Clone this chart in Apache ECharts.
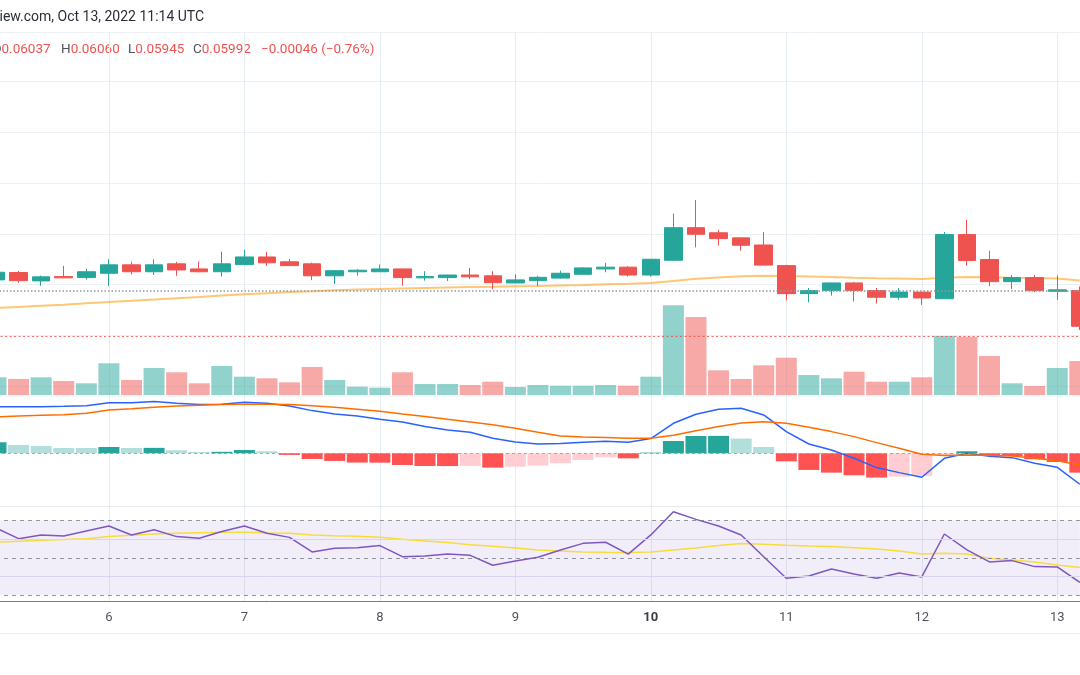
<!DOCTYPE html>
<html><head><meta charset="utf-8">
<script src="https://cdn.jsdelivr.net/npm/echarts@6/dist/echarts.min.js"></script>
<style>html,body{margin:0;padding:0;background:#fff}#c{width:1080px;height:675px}</style>
</head><body><div id="c"></div>
<script>
// ---- data (4h candles, Oct 5 04:00 .. Oct 13 04:00) ----
const times = [
 'Oct 5 04:00','Oct 5 08:00','Oct 5 12:00','Oct 5 16:00','Oct 5 20:00',
 'Oct 6 00:00','Oct 6 04:00','Oct 6 08:00','Oct 6 12:00','Oct 6 16:00','Oct 6 20:00',
 'Oct 7 00:00','Oct 7 04:00','Oct 7 08:00','Oct 7 12:00','Oct 7 16:00','Oct 7 20:00',
 'Oct 8 00:00','Oct 8 04:00','Oct 8 08:00','Oct 8 12:00','Oct 8 16:00','Oct 8 20:00',
 'Oct 9 00:00','Oct 9 04:00','Oct 9 08:00','Oct 9 12:00','Oct 9 16:00','Oct 9 20:00',
 'Oct 10 00:00','Oct 10 04:00','Oct 10 08:00','Oct 10 12:00','Oct 10 16:00','Oct 10 20:00',
 'Oct 11 00:00','Oct 11 04:00','Oct 11 08:00','Oct 11 12:00','Oct 11 16:00','Oct 11 20:00',
 'Oct 12 00:00','Oct 12 04:00','Oct 12 08:00','Oct 12 12:00','Oct 12 16:00','Oct 12 20:00',
 'Oct 13 00:00','Oct 13 04:00'];
const opens  = [0.06219,0.06248,0.06215,0.06232,0.06228,0.06245,0.06278,0.06251,0.06282,0.06262,0.06251,0.06279,0.06309,0.06290,0.06282,0.06235,0.06251,0.06251,0.06262,0.06227,0.06228,0.06238,0.06235,0.06207,0.06216,0.06226,0.06241,0.06262,0.06269,0.06238,0.06296,0.06424,0.06404,0.06384,0.06356,0.06275,0.06165,0.06177,0.06207,0.06177,0.06151,0.06171,0.06145,0.06397,0.06299,0.06212,0.06228,0.06174,0.06177];
const closes = [0.06249,0.06216,0.06231,0.06227,0.06251,0.06278,0.06251,0.06278,0.06258,0.06251,0.06282,0.06309,0.06286,0.06275,0.06235,0.06255,0.06257,0.06262,0.06228,0.06232,0.06238,0.06231,0.06208,0.06219,0.06229,0.06245,0.06266,0.06269,0.06238,0.06300,0.06424,0.06398,0.06381,0.06355,0.06277,0.06165,0.06177,0.06207,0.06177,0.06151,0.06171,0.06148,0.06397,0.06295,0.06212,0.06228,0.06177,0.06180,0.06037];
const lows   = [0.06211,0.06208,0.06196,0.06226,0.06220,0.06195,0.06241,0.06238,0.06235,0.06248,0.06232,0.06278,0.06274,0.06274,0.06218,0.06203,0.06235,0.06250,0.06196,0.06216,0.06215,0.06222,0.06182,0.06206,0.06195,0.06225,0.06240,0.06249,0.06232,0.06232,0.06295,0.06347,0.06354,0.06334,0.06276,0.06138,0.06131,0.06157,0.06134,0.06126,0.06141,0.06121,0.06144,0.06275,0.06194,0.06183,0.06171,0.06141,0.06022];
const highs  = [0.06258,0.06254,0.06236,0.06274,0.06262,0.06300,0.06290,0.06300,0.06290,0.06290,0.06330,0.06337,0.06329,0.06301,0.06287,0.06258,0.06261,0.06279,0.06263,0.06253,0.06239,0.06266,0.06253,0.06240,0.06235,0.06255,0.06269,0.06286,0.06273,0.06301,0.06479,0.06533,0.06415,0.06385,0.06407,0.06278,0.06187,0.06208,0.06211,0.06187,0.06187,0.06172,0.06407,0.06455,0.06333,0.06238,0.06238,0.06236,0.06193];
const volumes = [1770,1600,1770,1400,1170,3170,1500,2700,2270,1170,2900,1830,1670,1270,2800,1500,830,730,2270,1100,1100,1000,1330,800,1000,930,930,1000,930,1830,8970,7800,2470,1600,2970,3730,2000,1670,2330,1330,1330,1770,5900,5830,3900,1170,900,2700,3400];
const priceMA = [0.06109,0.06113,0.06117,0.06121,0.06127,0.06132,0.06137,0.06142,0.06147,0.06152,0.06158,0.06163,0.06167,0.06171,0.06174,0.06178,0.06181,0.06183,0.06185,0.06187,0.06189,0.06191,0.06192,0.06194,0.06195,0.06197,0.06199,0.06202,0.06204,0.06207,0.06215,0.06223,0.06228,0.06233,0.06235,0.06234,0.06232,0.06230,0.06227,0.06225,0.06224,0.06222,0.06227,0.06230,0.06229,0.06227,0.06226,0.06224,0.06217];
const prevClose = 0.06177;
const lastPrice = 0.05999;
// MACD values in units of 1e-5
const macdLine = [48.2,48.2,48.2,48.6,49.2,52.3,52.3,53.4,51.7,50.3,50.6,52.7,51.7,48.9,44.1,40.6,38.6,35.1,32.4,27.6,24.1,21.7,15.5,11.7,9.6,10.0,11.4,12.4,11.4,15.2,31.0,40.3,45.5,46.5,39.6,22.4,9.6,3.4,-5.2,-14.8,-20.0,-24.8,-5.2,0.0,-3.1,-4.5,-10.3,-14.5,-32.0];
const signalLine = [37.5,38.6,39.3,39.9,41.3,44.8,46.1,47.5,48.9,49.6,50.3,50.6,50.6,50.3,49.2,47.5,45.5,43.4,40.6,37.9,35.1,32.4,29.6,25.8,21.7,17.9,16.9,16.2,15.5,15.5,18.6,23.4,27.6,31.3,32.7,31.0,26.9,22.4,17.2,11.0,5.2,-1.0,-2.4,-1.7,-2.1,-2.8,-5.2,-7.6,-12.1];
const histogram = [11.4,8.6,7.6,5.5,5.5,6.5,5.5,5.6,3.1,1.4,1.5,3.4,2.1,-1.7,-5.9,-7.9,-9.6,-9.7,-12.1,-13.1,-13.2,-13.0,-14.8,-13.8,-12.7,-10.3,-6.9,-4.1,-5.2,0.7,12.7,17.9,18.0,15.2,6.5,-8.3,-17.2,-20.0,-22.7,-25.1,-24.1,-23.4,-1.7,2.1,-2.4,-2.8,-6.2,-9.0,-20.0];
const rsi = [65.9,60.2,62.2,61.6,64.3,67.0,62.2,65.0,61.3,60.4,64.0,67.0,63.1,60.9,53.1,55.1,55.4,56.5,50.6,51.0,52.0,51.3,46.0,48.3,50.3,54.2,57.7,58.3,52.0,62.2,74.6,70.5,67.0,62.2,50.6,39.1,40.3,44.0,41.4,39.1,41.9,39.8,62.7,54.2,47.8,48.5,45.3,45.1,36.9];
const rsiMA = [58.3,58.8,59.3,59.7,60.2,61.3,62.0,62.7,63.1,63.4,63.6,63.6,63.2,63.1,62.2,61.8,61.5,60.9,59.9,59.0,58.1,57.0,56.1,55.2,54.2,53.6,53.1,52.9,52.8,53.1,54.2,55.2,56.5,57.6,57.2,56.7,56.3,56.0,55.4,54.7,53.6,52.0,52.4,52.0,49.7,48.8,47.8,46.2,44.8];
const rsiLevels = [70, 50, 30];
const rsiGrid = [60, 40];
const headerText = 'iew.com, Oct 13, 2022 11:14 UTC';
const ohlc = [['O','0.06037'],['H','0.06060'],['L','0.05945'],['C','0.05992']];
const changeText = '\u22120.00046 (\u22120.76%)';

// ---- styles ----
const UP = '#26a69a', DOWN = '#ef5350';
const L = -4, W = 1083.84;
const FONT = 'Roboto, "Noto Sans", sans-serif';

const candleData = opens.map((o, i) => [o, closes[i], lows[i], highs[i]]);
const volData = volumes.map((v, i) => ({
  value: v,
  itemStyle: { color: closes[i] >= opens[i] ? 'rgba(38,166,154,0.5)' : 'rgba(239,83,80,0.5)' }
}));
const histData = histogram.map((h, i) => {
  const prev = i > 0 ? histogram[i - 1] : -Infinity;
  let c;
  if (h >= 0) c = prev < h ? '#26a69a' : '#b2dfdb';
  else c = prev < h ? '#ffcdd2' : '#ff5252';
  return { value: h, itemStyle: { color: c } };
});

const hiddenX = (gi) => ({ type: 'category', gridIndex: gi, data: times, boundaryGap: false, show: false });
const hiddenY = (gi, extra) => Object.assign({ type: 'value', gridIndex: gi, show: false, scale: false }, extra);

const graphics = [
  { type: 'text', x: -0.5, y: 17.5, style: { text: headerText, fill: '#2a2e39', font: '14px ' + FONT, verticalAlign: 'middle' } },
  { type: 'line', shape: { x1: 0, y1: 396, x2: 1080, y2: 396 }, style: { stroke: '#eceff3', lineWidth: 1 } },
  { type: 'line', shape: { x1: 0, y1: 506.5, x2: 1080, y2: 506.5 }, style: { stroke: '#e6e9ee', lineWidth: 1 } },
  { type: 'line', shape: { x1: 0, y1: 633.5, x2: 1080, y2: 633.5 }, style: { stroke: '#eceff3', lineWidth: 1 } }
];
const ohlcX = [-7.8, 61, 128, 193];
ohlc.forEach((p, k) => {
  graphics.push({ type: 'text', x: ohlcX[k], y: 50, style: {
    text: '{l|' + p[0] + '}{v|' + p[1] + '}',
    verticalAlign: 'middle', font: '13.5px ' + FONT,
    rich: { l: { fill: '#50535e', fontSize: 13.5, fontFamily: FONT }, v: { fill: DOWN, fontSize: 13.5, fontFamily: FONT } }
  }});
});
graphics.push({ type: 'text', x: 261, y: 50, style: { text: changeText, fill: DOWN, font: '13.5px ' + FONT, verticalAlign: 'middle' } });

const chart = echarts.init(document.getElementById('c'), null, { renderer: 'canvas' });
chart.setOption({
  animation: false,
  backgroundColor: '#ffffff',
  grid: [
    { left: L, width: W, top: 32.3, height: 354.3, containLabel: false, outerBoundsMode: 'none' },
    { left: L, width: W, top: 195, height: 200, containLabel: false, outerBoundsMode: 'none' },
    { left: L, width: W, top: 396, height: 110.7, containLabel: false, outerBoundsMode: 'none' },
    { left: L, width: W, top: 506, height: 95, containLabel: false, outerBoundsMode: 'none' },
    { left: L, width: W, top: 32.3, height: 568.7, containLabel: false, outerBoundsMode: 'none' }
  ],
  xAxis: [
    hiddenX(0), hiddenX(1), hiddenX(2), hiddenX(3),
    {
      type: 'category', gridIndex: 4, data: times, boundaryGap: false,
      axisLine: { show: true, lineStyle: { color: '#787b86', width: 1 } },
      axisTick: { show: false },
      axisLabel: {
        interval: (i) => i % 6 === 5,
        margin: 10, color: '#50535e', fontSize: 13, fontFamily: FONT,
        formatter: (v) => { const d = v.split(' ')[1]; return d === '10' ? '{b|10}' : d; },
        rich: { b: { fontWeight: 'bold', fontSize: 13, fontFamily: FONT, color: '#3a3d46' } }
      },
      splitLine: { show: true, interval: (i) => i % 6 === 5, lineStyle: { color: '#e6edf2', width: 1 } }
    }
  ],
  yAxis: [
    { type: 'value', gridIndex: 0, min: 0.058, max: 0.071911, interval: 0.002,
      axisLabel: { show: false }, axisLine: { show: false }, axisTick: { show: false },
      splitLine: { show: true, lineStyle: { color: '#edf0f4', width: 1 } } },
    hiddenY(1, { min: 0, max: 20000 }),
    hiddenY(2, { min: -55.2, max: 59.2 }),
    hiddenY(3, { min: 26.96, max: 77.63 }),
    hiddenY(4, { min: 0, max: 1 })
  ],
  series: [
    { type: 'bar', name: 'Volume', xAxisIndex: 1, yAxisIndex: 1, data: volData, barWidth: 21, silent: true },
    { type: 'line', name: 'MA', xAxisIndex: 0, yAxisIndex: 0, data: priceMA, symbol: 'none', silent: true,
      lineStyle: { color: 'rgba(255,152,0,0.55)', width: 2 }, z: 1 },
    { type: 'candlestick', name: 'Price', xAxisIndex: 0, yAxisIndex: 0, data: candleData, barWidth: 18, silent: true,
      itemStyle: { color: UP, color0: DOWN, borderColor: UP, borderColor0: DOWN, borderWidth: 1 },
      markLine: { silent: true, precision: 6, symbol: ['none', 'none'], label: { show: false },
        data: [
          { yAxis: prevClose, lineStyle: { color: '#9598a1', type: [1.5, 2], width: 1.5 } },
          { yAxis: lastPrice, lineStyle: { color: '#ef5350', type: [2, 2.5], width: 1, opacity: 0.85 } }
        ] } },
    { type: 'bar', name: 'Histogram', xAxisIndex: 2, yAxisIndex: 2, data: histData, barWidth: 21, silent: true,
      markLine: { silent: true, symbol: ['none', 'none'], label: { show: false },
        data: [{ yAxis: 0, lineStyle: { color: '#9598a1', type: [3, 3], width: 1, opacity: 0.8 } }] } },
    { type: 'line', name: 'MACD', xAxisIndex: 2, yAxisIndex: 2, data: macdLine, symbol: 'none', silent: true,
      lineStyle: { color: '#2962ff', width: 1.5 } },
    { type: 'line', name: 'Signal', xAxisIndex: 2, yAxisIndex: 2, data: signalLine, symbol: 'none', silent: true,
      lineStyle: { color: '#ff6d00', width: 1.5 } },
    { type: 'line', name: 'RSI', xAxisIndex: 3, yAxisIndex: 3, data: rsi, symbol: 'none', silent: true,
      lineStyle: { color: '#7e57c2', width: 1.5 }, z: 4,
      markArea: { silent: true, itemStyle: { color: 'rgba(126,87,194,0.1)' },
        data: [[{ yAxis: rsiLevels[0] }, { yAxis: rsiLevels[2] }]] },
      markLine: { silent: true, symbol: ['none', 'none'], label: { show: false },
        data: rsiGrid.map(v => ({ yAxis: v, lineStyle: { color: '#d9d3ec', type: 'solid', width: 1 } }))
          .concat(rsiLevels.map(v => ({ yAxis: v, lineStyle: { color: '#787b86', type: [4, 4], width: 1, opacity: 0.8 } }))) } },
    { type: 'line', name: 'RSI MA', xAxisIndex: 3, yAxisIndex: 3, data: rsiMA, symbol: 'none', silent: true,
      lineStyle: { color: '#f7dc3a', width: 1.5 }, z: 3 }
  ],
  graphic: graphics
});
</script>
</body></html>
